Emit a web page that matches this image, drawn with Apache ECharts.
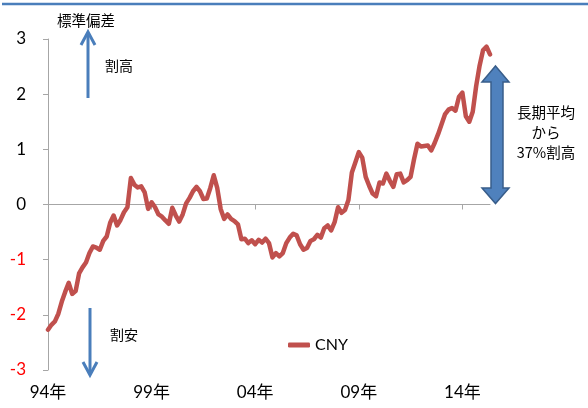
<!DOCTYPE html>
<html>
<head>
<meta charset="utf-8">
<script src="https://cdn.jsdelivr.net/npm/echarts@6/dist/echarts.min.js"></script>
<style>
  html, body { margin: 0; padding: 0; background: #fff; }
  #chart { width: 588px; height: 408px; }
</style>
</head>
<body>
<div id="chart"></div>
<script>
// Bi-monthly observations, Jan 1994 – May 2015
const categories = [];
for (let y = 1994; y <= 2015; y++) {
  for (let m = 1; m <= 11; m += 2) {
    if (y === 2015 && m > 5) break;
    categories.push(y + '-' + String(m).padStart(2, '0'));
  }
}

// CNY deviation from long-run mean, in standard deviations
const cnyValues = [
  -2.27, -2.18, -2.12, -1.98, -1.76, -1.58, -1.42, -1.62, -1.57, -1.25,
  -1.14, -1.05, -0.88, -0.76, -0.78, -0.82, -0.66, -0.58, -0.33, -0.20,
  -0.38, -0.28, -0.14, -0.05, 0.48, 0.36, 0.31, 0.33, 0.22, -0.08,
  0.04, -0.05, -0.18, -0.22, -0.29, -0.35, -0.06, -0.20, -0.31, -0.18,
  0.02, 0.12, 0.24, 0.32, 0.24, 0.10, 0.11, 0.30, 0.53, 0.30,
  -0.08, -0.26, -0.18, -0.26, -0.30, -0.36, -0.63, -0.62, -0.70, -0.65,
  -0.72, -0.64, -0.69, -0.62, -0.70, -0.96, -0.88, -0.94, -0.88, -0.70,
  -0.60, -0.53, -0.56, -0.72, -0.82, -0.79, -0.66, -0.63, -0.55, -0.60,
  -0.43, -0.38, -0.47, -0.32, -0.05, -0.15, -0.10, 0.08, 0.58, 0.76,
  0.95, 0.85, 0.50, 0.34, 0.20, 0.15, 0.40, 0.38, 0.56, 0.43,
  0.32, 0.55, 0.56, 0.40, 0.44, 0.50, 0.82, 1.10, 1.05, 1.06,
  1.07, 0.98, 1.12, 1.28, 1.46, 1.64, 1.72, 1.75, 1.70, 1.95,
  2.03, 1.60, 1.50, 1.68, 2.15, 2.52, 2.80, 2.86, 2.72
];

const tickLabels = ['94年', '99年', '04年', '09年', '14年'];
const TICK_STEP = 30; // five years of bi-monthly points

const LATIN = 'Lato, "Noto Sans CJK JP", sans-serif';
const CJK = '"Noto Sans CJK JP", sans-serif';
const AXIS_GRAY = '#a6a6a6';
const BLUE = '#4a7ebb';

const chart = echarts.init(document.getElementById('chart'), null, { renderer: 'canvas' });

chart.setOption({
  animation: false,
  backgroundColor: '#ffffff',
  grid: { left: 48, right: 98, top: 39, bottom: 38, containLabel: false },
  legend: {
    data: ['CNY'],
    left: 283,
    top: 332,
    itemWidth: 22,
    itemHeight: 5,
    icon: 'roundRect',
    itemGap: 4,
    textStyle: { fontFamily: LATIN, fontSize: 16, color: '#000' }
  },
  xAxis: [
    {
      // axis line drawn through zero with 5-year ticks
      type: 'category',
      data: categories,
      boundaryGap: false,
      axisLine: { onZero: true, lineStyle: { color: AXIS_GRAY, width: 1 } },
      axisTick: { show: true, interval: TICK_STEP - 1, length: 5, lineStyle: { color: AXIS_GRAY } },
      axisLabel: { show: false },
      splitLine: { show: false }
    },
    {
      // year labels along the bottom edge
      type: 'category',
      data: categories,
      boundaryGap: false,
      position: 'bottom',
      axisLine: { show: false, onZero: false },
      axisTick: { show: false },
      axisLabel: {
        interval: TICK_STEP - 1,
        margin: 14,
        fontFamily: LATIN,
        fontSize: 17,
        color: '#000',
        formatter: function (value, index) {
          return tickLabels[Math.round(index / TICK_STEP)] || '';
        }
      },
      splitLine: { show: false }
    }
  ],
  yAxis: {
    type: 'value',
    min: -3,
    max: 3,
    interval: 1,
    axisLine: { show: true, lineStyle: { color: AXIS_GRAY, width: 1 } },
    axisTick: { show: true, length: 5, lineStyle: { color: AXIS_GRAY } },
    splitLine: { show: false },
    axisLabel: {
      margin: 22,
      fontFamily: LATIN,
      fontSize: 17,
      color: function (value) { return Number(value) < 0 ? '#ff0000' : '#000000'; }
    }
  },
  series: [
    {
      name: 'CNY',
      type: 'line',
      xAxisIndex: 0,
      data: cnyValues,
      symbol: 'none',
      color: '#c0504d',
      lineStyle: { color: '#c0504d', width: 4.5, cap: 'round', join: 'round' }
    }
  ],
  graphic: [
    // rule across the top
    { type: 'line', shape: { x1: 2, y1: 4, x2: 588, y2: 4 }, style: { stroke: BLUE, lineWidth: 2.5 } },
    // unit caption
    { type: 'text', left: 57, top: 13, style: { text: '標準偏差', font: '14.5px ' + CJK, fill: '#000' } },
    // upward arrow: expensive
    { type: 'line', shape: { x1: 88, y1: 98, x2: 88, y2: 33 }, style: { stroke: BLUE, lineWidth: 3 } },
    { type: 'polyline', shape: { points: [[81, 45], [88, 32], [95, 45]] }, style: { stroke: BLUE, lineWidth: 3, fill: null } },
    { type: 'text', left: 105, top: 59, style: { text: '割高', font: '14px ' + CJK, fill: '#000' } },
    // downward arrow: cheap
    { type: 'line', shape: { x1: 90, y1: 308, x2: 90, y2: 374 }, style: { stroke: BLUE, lineWidth: 3 } },
    { type: 'polyline', shape: { points: [[83, 362], [90, 375], [97, 362]] }, style: { stroke: BLUE, lineWidth: 3, fill: null } },
    { type: 'text', left: 110, top: 328, style: { text: '割安', font: '14px ' + CJK, fill: '#000' } },
    // double-headed block arrow spanning the deviation
    {
      type: 'polygon',
      shape: {
        points: [
          [495.5, 66], [509, 82], [503, 82], [503, 188], [509, 188],
          [495.5, 203.5], [482, 188], [491, 188], [491, 82], [482, 82]
        ]
      },
      style: { fill: '#4f81bd', stroke: '#385d8a', lineWidth: 1.5 }
    },
    {
      type: 'text', x: 546, y: 112,
      style: { text: '長期平均', font: '14.5px ' + CJK, fill: '#000', align: 'center', verticalAlign: 'middle' }
    },
    {
      type: 'text', x: 546, y: 132,
      style: { text: 'から', font: '14.5px ' + CJK, fill: '#000', align: 'center', verticalAlign: 'middle' }
    },
    {
      type: 'text', x: 546, y: 152,
      style: { text: '37%割高', font: '14.5px ' + CJK, fill: '#000', align: 'center', verticalAlign: 'middle' }
    }
  ]
});
</script>
</body>
</html>
